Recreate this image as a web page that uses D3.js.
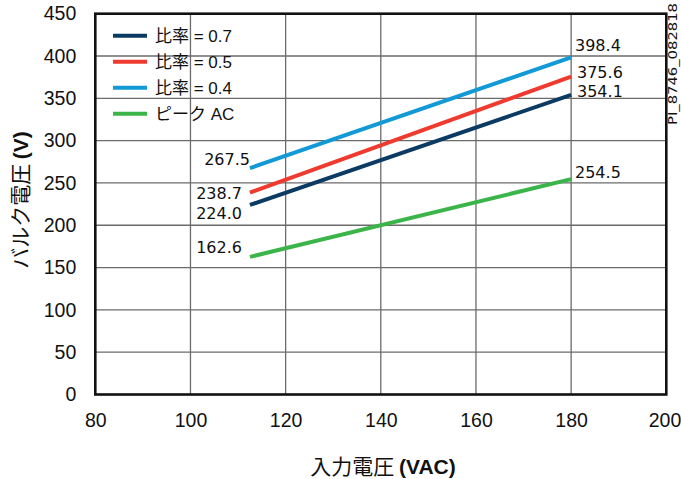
<!DOCTYPE html>
<html>
<head>
<meta charset="utf-8">
<script src="https://cdn.jsdelivr.net/npm/d3@7"></script>
<style>
  html, body { margin: 0; padding: 0; background: #fff; }
  svg { display: block; }
</style>
</head>
<body>
<svg id="chart" width="681" height="479"></svg>
<script>
// Input voltage range over which each curve is drawn (VAC)
const vinRange = [112.5, 180];

// Bulk voltage series (V) at the start and end of the input range
const seriesPrefixes = ["比率", "比率", "比率", "ピーク"];
const seriesSuffixes = [" = 0.7", " = 0.5", " = 0.4", " AC"];
const seriesStart = [224.0, 238.7, 267.5, 162.6];
const seriesEnd = [354.1, 375.6, 398.4, 254.5];
const seriesColors = ["#0b3b63", "#ef3b2f", "#119ad6", "#3bb54a"];

// Axis ticks
const xTicks = [80, 100, 120, 140, 160, 180, 200];
const yTicks = [0, 50, 100, 150, 200, 250, 300, 350, 400, 450];

const svg = d3.select("#chart");
const plot = { left: 95.3, right: 666.3, top: 13.7, bottom: 394.5 };

const x = d3.scaleLinear().domain([80, 200]).range([plot.left, plot.right]);
const y = d3.scaleLinear().domain([0, 450]).range([plot.bottom, plot.top]);

const sansFont = "Arial, 'Liberation Sans', Helvetica, sans-serif";
const cjkFont = "'Noto Sans CJK JP', 'Noto Sans CJK SC', sans-serif";
const labelFont = "'DejaVu Sans', Verdana, sans-serif";

// Grid lines
const grid = svg.append("g").attr("stroke", "#6b6b6b").attr("stroke-width", 1.3);
grid.selectAll("line.gx").data(xTicks.slice(1, -1)).join("line")
  .attr("x1", d => x(d)).attr("x2", d => x(d))
  .attr("y1", plot.top).attr("y2", plot.bottom);
grid.selectAll("line.gy").data(yTicks.slice(1, -1)).join("line")
  .attr("x1", plot.left).attr("x2", plot.right)
  .attr("y1", d => y(d)).attr("y2", d => y(d));

// Axes (tick labels only; the frame is drawn separately)
const xAxis = d3.axisBottom(x).tickValues(xTicks).tickSize(0).tickPadding(18.5);
const yAxis = d3.axisLeft(y).tickValues(yTicks).tickSize(0).tickPadding(19);

const gx = svg.append("g").attr("transform", `translate(0,${plot.bottom})`).call(xAxis);
const gy = svg.append("g").attr("transform", `translate(${plot.left},0)`).call(yAxis);
[gx, gy].forEach(g => {
  g.select(".domain").remove();
  g.selectAll("text").attr("font-family", sansFont).attr("font-size", 19.5).attr("fill", "#111");
});
// Keep the last x tick label inside the canvas
gx.selectAll(".tick text").filter(d => d === 200).attr("text-anchor", "end").attr("dx", 14.5);

// Data lines
const lineGen = d3.line().x(d => x(d[0])).y(d => y(d[1]));
seriesStart.forEach((v, i) => {
  svg.append("path")
    .attr("d", lineGen([[vinRange[0], seriesStart[i]], [vinRange[1], seriesEnd[i]]]))
    .attr("fill", "none")
    .attr("stroke", seriesColors[i])
    .attr("stroke-width", 4);
});

// Frame
svg.append("rect")
  .attr("x", plot.left).attr("y", plot.top)
  .attr("width", plot.right - plot.left).attr("height", plot.bottom - plot.top)
  .attr("fill", "none").attr("stroke", "#111").attr("stroke-width", 2.6);

// Value labels at both ends of each line
const startLabelPos = [[242, 219], [242, 199], [250, 165], [242, 253]];
const endLabelPos = [[577, 97], [577, 78], [575, 51], [575, 178]];
seriesStart.forEach((v, i) => {
  svg.append("text")
    .attr("x", startLabelPos[i][0]).attr("y", startLabelPos[i][1])
    .attr("text-anchor", "end")
    .attr("font-family", labelFont).attr("font-size", 16).attr("fill", "#111")
    .text(seriesStart[i].toFixed(1));
  svg.append("text")
    .attr("x", endLabelPos[i][0]).attr("y", endLabelPos[i][1])
    .attr("font-family", labelFont).attr("font-size", 16).attr("fill", "#111")
    .text(seriesEnd[i].toFixed(1));
});

// Legend
const legend = svg.append("g");
seriesStart.forEach((v, i) => {
  const ly = 35.7 + i * 26;
  legend.append("line")
    .attr("x1", 113).attr("x2", 147).attr("y1", ly).attr("y2", ly)
    .attr("stroke", seriesColors[i]).attr("stroke-width", 4);
  const t = legend.append("text")
    .attr("x", 155).attr("y", ly + 6.5)
    .attr("font-size", 17).attr("fill", "#111");
  t.append("tspan").attr("font-family", cjkFont).text(seriesPrefixes[i]);
  t.append("tspan").attr("font-family", sansFont).text(seriesSuffixes[i]);
});

// Axis titles
const xTitle = svg.append("text")
  .attr("x", 383).attr("y", 474)
  .attr("text-anchor", "middle").attr("font-size", 21).attr("fill", "#111");
xTitle.append("tspan").attr("font-family", cjkFont).text("入力電圧 ");
xTitle.append("tspan").attr("font-family", sansFont).attr("font-weight", "bold").text("(VAC)");

const yTitle = svg.append("text")
  .attr("transform", "translate(28,200) rotate(-90)")
  .attr("text-anchor", "middle").attr("font-size", 21).attr("fill", "#111");
yTitle.append("tspan").attr("font-family", cjkFont).text("バルク電圧 ");
yTitle.append("tspan").attr("font-family", sansFont).attr("font-weight", "bold").text("(V)");

// Figure code along the right edge
svg.append("text")
  .attr("transform", "translate(677,125) rotate(-90)")
  .attr("font-family", labelFont).attr("font-size", 12).attr("fill", "#111")
  .attr("textLength", 122).attr("lengthAdjust", "spacingAndGlyphs")
  .text("PI_8746_082818");
</script>
</body>
</html>
